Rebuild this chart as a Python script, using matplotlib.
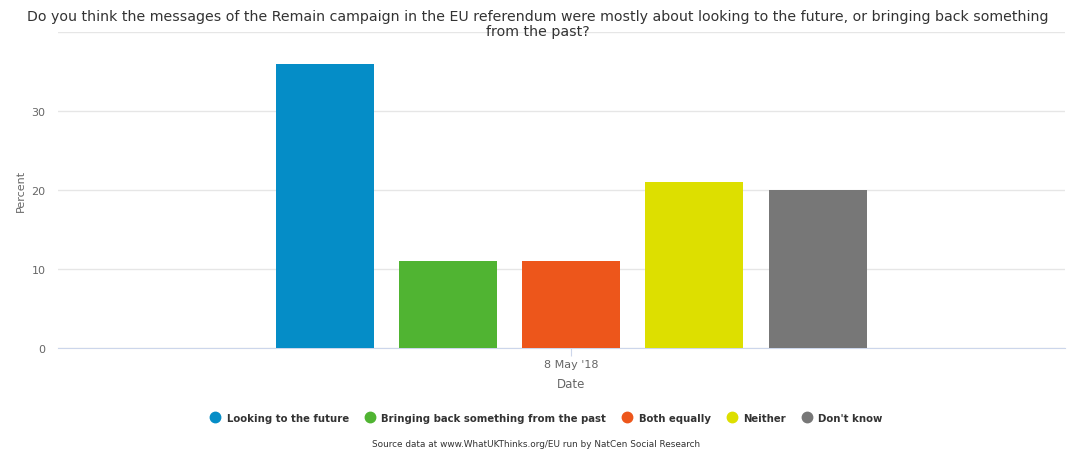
import matplotlib
matplotlib.use("Agg")
import matplotlib.pyplot as plt
from matplotlib.lines import Line2D

title = ("Do you think the messages of the Remain campaign in the EU referendum were mostly about looking to the future, "
         "or bringing back something\nfrom the past?")
answers = ["Looking to the future", "Bringing back something from the past",
           "Both equally", "Neither", "Don't know"]
values = [36, 11, 11, 21, 20]
colors = ["#058DC7", "#50B432", "#ED561B", "#DDDF00", "#777777"]
category = "8 May '18"

fig = plt.figure(figsize=(10.75, 4.52), dpi=100)
ax = fig.add_axes([0.054, 0.228, 0.937, 0.699])

width = 0.0973
step = 0.1224
for i, (lab, v, c) in enumerate(zip(answers, values, colors)):
    ax.bar((i - 2) * step, v, width=width, color=c, label=lab, zorder=3)

ax.set_xlim(-0.5094, 0.4906)
ax.set_ylim(0, 40)
ax.set_yticks([0, 10, 20, 30, 40])
ax.set_yticklabels(["0", "10", "20", "30", ""])
ax.set_xticks([0])
ax.set_xticklabels([category])
ax.grid(axis="y", color="#e6e6e6", linewidth=1, zorder=0)
for s in ["top", "right", "left"]:
    ax.spines[s].set_visible(False)
ax.spines["bottom"].set_color("#ccd6eb")
ax.tick_params(axis="y", length=0, pad=9, labelsize=8, labelcolor="#666666")
ax.tick_params(axis="x", length=6, color="#ccd6eb", pad=2, labelsize=8, labelcolor="#666666")
ax.set_ylabel("Percent", fontsize=8, color="#666666", labelpad=4)
ax.set_xlabel("Date", fontsize=8.5, color="#666666")
# category sits at 0, which is not the middle of the axes
ax.xaxis.set_label_coords(0.5094, -0.092)

fig.text(0.5, 0.977, title, ha="center", va="top", fontsize=10.2, color="#333333",
         linespacing=1.1)

handles = [Line2D([], [], marker="o", linestyle="", markersize=7.5, color=c) for c in colors]
fig.legend(handles, answers, loc="center", bbox_to_anchor=(0.506, 0.073), ncol=5, frameon=False,
           handletextpad=0.1, columnspacing=1.1, prop={"size": 7.3, "weight": "bold"},
           labelcolor="#333333")

fig.text(0.499, 0.016, "Source data at www.WhatUKThinks.org/EU run by NatCen Social Research",
         ha="center", va="center", fontsize=6.4, color="#333333")

fig.savefig("out.png", dpi=100)
